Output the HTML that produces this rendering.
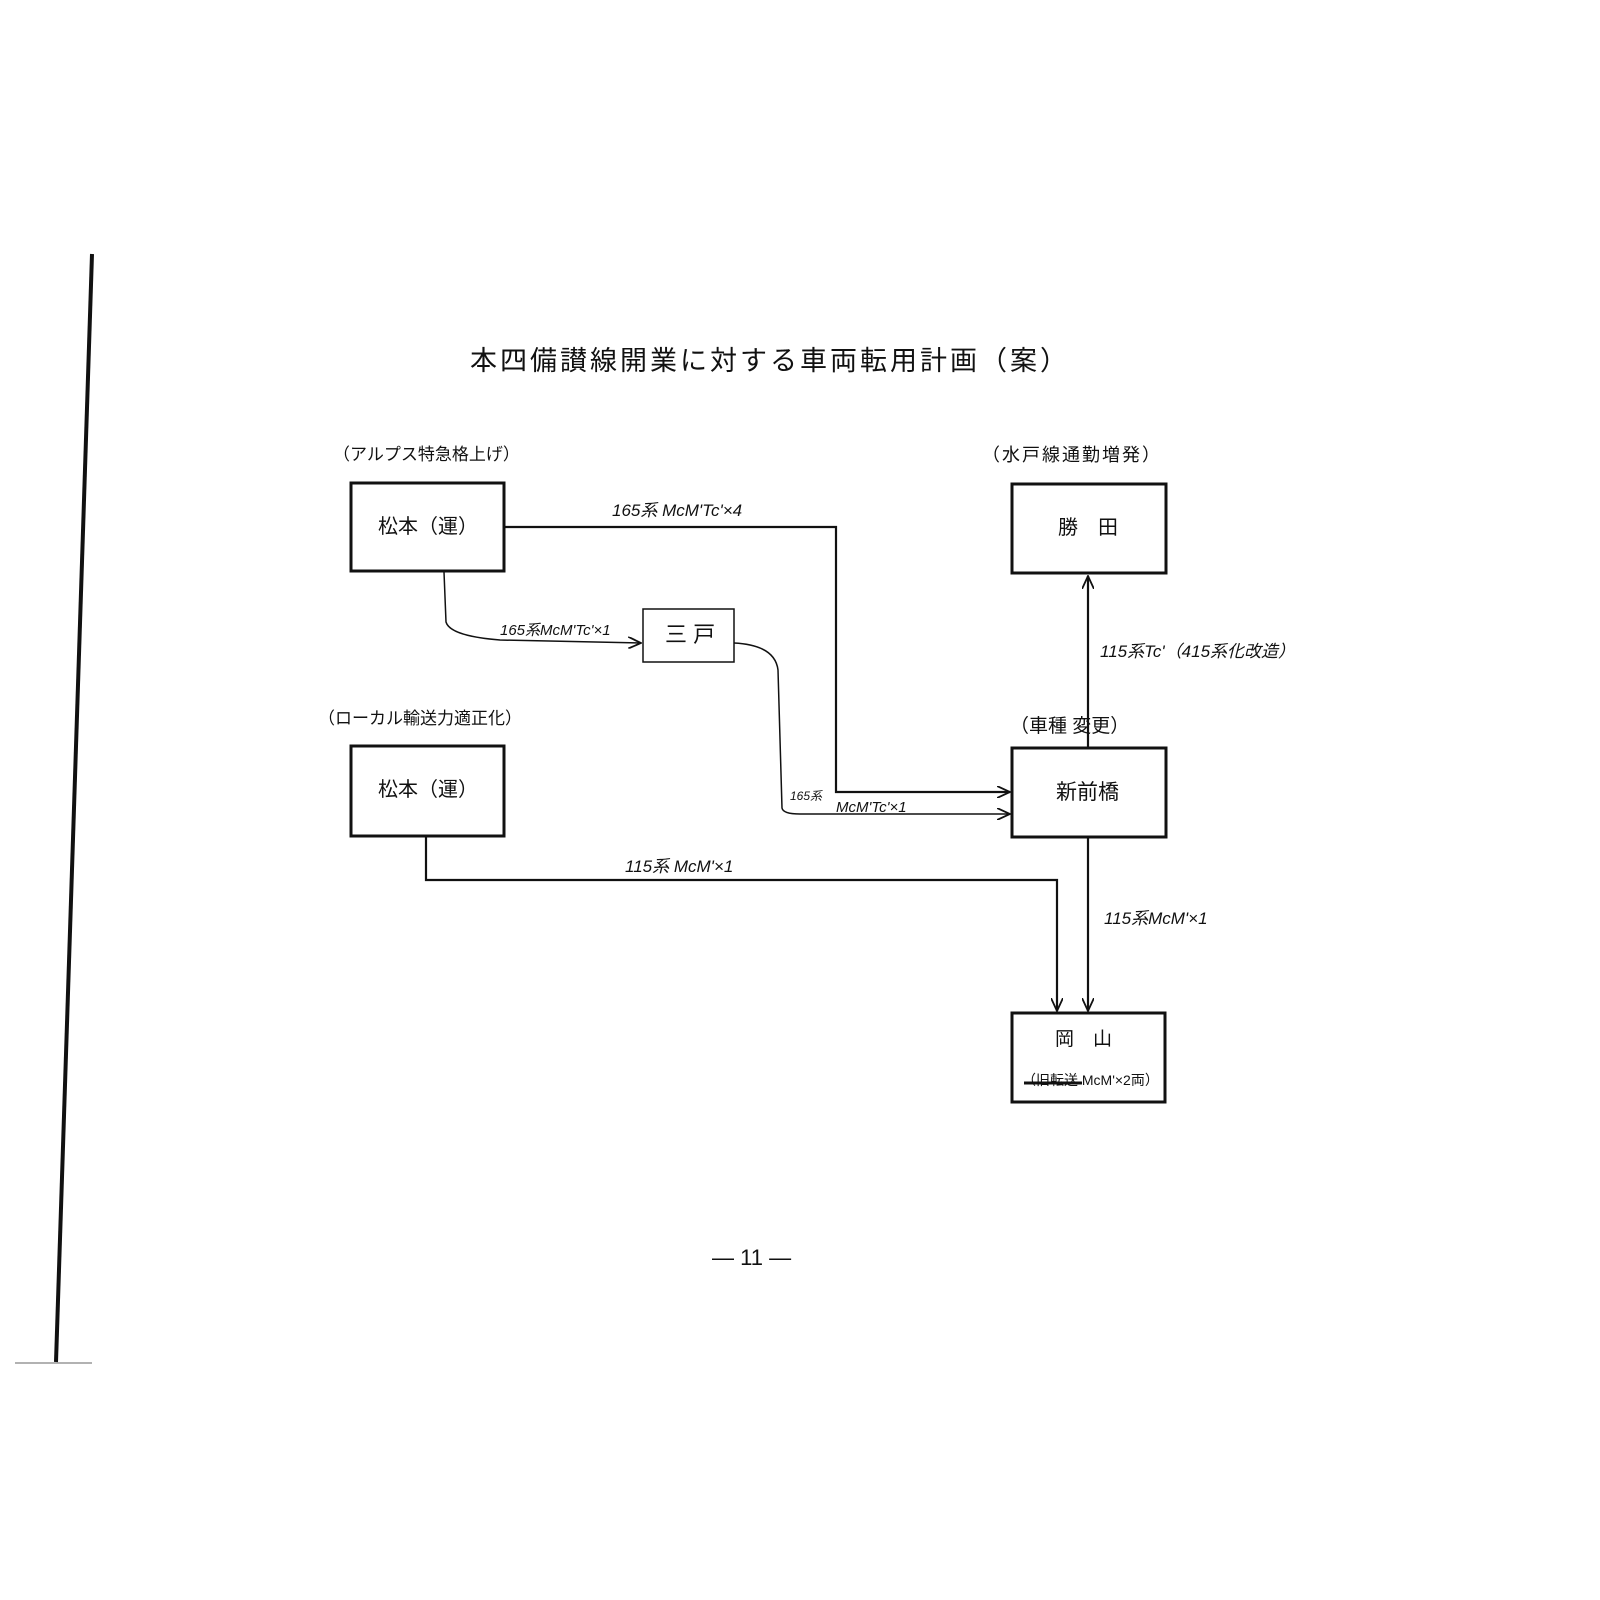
<!DOCTYPE html>
<html><head><meta charset="utf-8"><style>
body{margin:0;background:#fff;}
.w{position:relative;width:1600px;height:1600px;overflow:hidden;background:#fff;font-family:"Liberation Sans","Noto Sans CJK JP",sans-serif;color:#111;}
.t{position:absolute;white-space:nowrap;line-height:1;}
.i{font-style:italic;}
</style></head><body><div class="w">
<svg width="1600" height="1600" style="position:absolute;left:0;top:0">
<defs><marker id="a" markerWidth="14" markerHeight="12" refX="13" refY="6" orient="auto" markerUnits="userSpaceOnUse"><path d="M0,0 L13,6 L0,12" fill="none" stroke="#111" stroke-width="1.8"/></marker></defs>
<g fill="none" stroke="#111" stroke-width="3">
<rect x="351" y="483" width="153" height="88"/>
<rect x="351" y="746" width="153" height="90"/>
<rect x="1012" y="484" width="154" height="89"/>
<rect x="1012" y="748" width="154" height="89"/>
<rect x="1012" y="1013" width="153" height="89"/>
</g>
<rect x="643" y="609" width="91" height="53" fill="none" stroke="#111" stroke-width="1.5"/>
<g fill="none" stroke="#111" stroke-width="2.2">
<path d="M504,527 H836 V792 H1010" marker-end="url(#a)"/>
<path d="M426,836 V880 H1057 V1011" marker-end="url(#a)"/>
<path d="M1088,748 V576" marker-end="url(#a)"/>
<path d="M1088,837 V1011" marker-end="url(#a)"/>
</g>
<g fill="none" stroke="#111" stroke-width="1.5">
<path d="M444,572 L446,622 Q450,636 500,640 L641,643" marker-end="url(#a)"/>
<path d="M734,643 Q775,645 778,670 L782,808 Q783,814 800,814 L1010,814" marker-end="url(#a)"/>
</g>
<path d="M92,254 L56,1362" stroke="#111" stroke-width="4"/>
<path d="M15,1363 H92" stroke="#666" stroke-width="1"/>
<path d="M1024,1083 H1082" stroke="#111" stroke-width="3"/>
</svg>
<div class="t" style="left:470px;top:348px;font-size:27px;letter-spacing:3px;">本四備讃線開業に対する車両転用計画（案）</div>
<div class="t" style="left:333px;top:446px;font-size:17px;">（アルプス特急格上げ）</div>
<div class="t" style="left:982px;top:446px;font-size:18px;letter-spacing:2px;">（水戸線通勤増発）</div>
<div class="t" style="left:378px;top:517px;font-size:20px;">松本（運）</div>
<div class="t" style="left:378px;top:780px;font-size:20px;">松本（運）</div>
<div class="t" style="left:1058px;top:518px;font-size:20px;">勝　田</div>
<div class="t" style="left:1056px;top:782px;font-size:21px;">新前橋</div>
<div class="t" style="left:1055px;top:1030px;font-size:19px;">岡　山</div>
<div class="t" style="left:1022px;top:1073px;font-size:14px;">（旧転送 McM'×2両）</div>
<div class="t i" style="left:612px;top:502px;font-size:17px;">165系 McM'Tc'×4</div>
<div class="t i" style="left:500px;top:623px;font-size:15px;">165系McM'Tc'×1</div>
<div class="t" style="left:665px;top:624px;font-size:22px;">三 戸</div>
<div class="t" style="left:318px;top:710px;font-size:17px;">（ローカル輸送力適正化）</div>
<div class="t" style="left:1010px;top:717px;font-size:19px;">（車種 変更）</div>
<div class="t i" style="left:790px;top:790px;font-size:12px;">165系</div>
<div class="t i" style="left:836px;top:800px;font-size:15px;">McM'Tc'×1</div>
<div class="t i" style="left:625px;top:858px;font-size:17px;">115系 McM'×1</div>
<div class="t i" style="left:1100px;top:643px;font-size:17px;">115系Tc'（415系化改造）</div>
<div class="t i" style="left:1104px;top:910px;font-size:17px;">115系McM'×1</div>
<div class="t" style="left:712px;top:1247px;font-size:22px;">— 11 —</div>
</div></body></html>
